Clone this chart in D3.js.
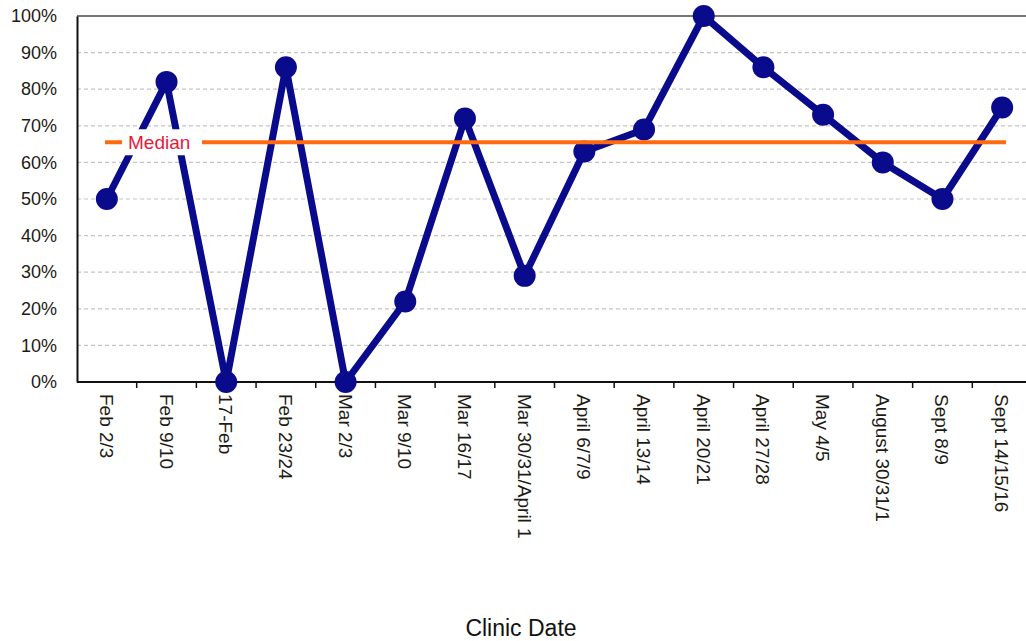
<!DOCTYPE html>
<html>
<head>
<meta charset="utf-8">
<script src="https://cdn.jsdelivr.net/npm/d3@7"></script>
<style>
  html, body { margin: 0; padding: 0; background: #fff; }
  svg { display: block; font-family: "Liberation Sans", Arial, sans-serif; }
</style>
</head>
<body>
<svg id="chart" width="1026" height="641"></svg>
<script>
// Clinic dates along the x axis
const clinicDates = [
  "Feb 2/3", "Feb 9/10", "17-Feb", "Feb 23/24", "Mar 2/3", "Mar 9/10",
  "Mar 16/17", "Mar 30/31/April 1", "April 6/7/9", "April 13/14",
  "April 20/21", "April 27/28", "May 4/5", "August 30/31/1", "Sept 8/9",
  "Sept 14/15/16"
];
// Share per clinic (fraction of 1)
const rates = [0.50, 0.82, 0.00, 0.86, 0.00, 0.22, 0.72, 0.29, 0.63, 0.69,
               1.00, 0.86, 0.73, 0.60, 0.50, 0.75];
// Median of the series
const medianValue = 0.655;
const yTicks = [0, 0.1, 0.2, 0.3, 0.4, 0.5, 0.6, 0.7, 0.8, 0.9, 1.0];

const svg = d3.select("#chart");
const plot = { left: 77, right: 1032, top: 16, bottom: 382 };

const x = d3.scaleBand().domain(clinicDates).range([plot.left, plot.right]).padding(0);
const y = d3.scaleLinear().domain([0, 1]).range([plot.bottom, plot.top]);

// Horizontal gridlines
svg.append("g").selectAll("line")
  .data(yTicks.filter(t => t > 0))
  .join("line")
  .attr("x1", plot.left).attr("x2", 1026)
  .attr("y1", d => y(d)).attr("y2", d => y(d))
  .attr("stroke", d => d === 1 ? "#777" : "#c4c4c4")
  .attr("stroke-width", d => d === 1 ? 2 : 1.2)
  .attr("stroke-dasharray", d => d === 1 ? null : "4,3");

// Y axis
const yAxis = svg.append("g")
  .attr("transform", `translate(${plot.left},0)`)
  .call(d3.axisLeft(y).tickValues(yTicks).tickFormat(d3.format(".0%")).tickSize(0).tickPadding(20));
yAxis.select(".domain").attr("stroke", "#111").attr("stroke-width", 2);
yAxis.selectAll("text").attr("font-size", 18).attr("fill", "#1e1a14");

// X axis with ticks at category boundaries
const xAxisG = svg.append("g").attr("transform", `translate(0,${plot.bottom})`);
xAxisG.append("line")
  .attr("x1", plot.left).attr("x2", 1026).attr("y1", 0).attr("y2", 0)
  .attr("stroke", "#111").attr("stroke-width", 2);
xAxisG.selectAll("line.tick")
  .data(clinicDates.slice(1))
  .join("line")
  .attr("class", "tick")
  .attr("x1", d => x(d)).attr("x2", d => x(d))
  .attr("y1", 0).attr("y2", 6)
  .attr("stroke", "#111").attr("stroke-width", 1.5);
xAxisG.selectAll("text")
  .data(clinicDates)
  .join("text")
  .attr("transform", d => `translate(${x(d) + x.bandwidth() / 2 - 7},12) rotate(90)`)
  .attr("font-size", 19)
  .attr("fill", "#1e1a14")
  .attr("text-anchor", "start")
  .text(d => d);

// Data line and markers
const cx = d => x(d) + x.bandwidth() / 2;
const line = d3.line().x((d, i) => cx(clinicDates[i])).y(d => y(d));
svg.append("path")
  .datum(rates)
  .attr("d", line)
  .attr("fill", "none")
  .attr("stroke", "#0a0a8c")
  .attr("stroke-width", 7)
  .attr("stroke-linejoin", "round");
svg.append("g").selectAll("circle")
  .data(rates)
  .join("circle")
  .attr("cx", (d, i) => cx(clinicDates[i]))
  .attr("cy", d => y(d))
  .attr("r", 11)
  .attr("fill", "#0a0a8c");

// Median line with its label on a white patch
const medY = y(medianValue);
svg.append("line")
  .attr("x1", 105).attr("x2", 1006)
  .attr("y1", medY).attr("y2", medY)
  .attr("stroke", "#ff6a10").attr("stroke-width", 4);
svg.append("rect")
  .attr("x", 122).attr("y", medY - 13)
  .attr("width", 80).attr("height", 26)
  .attr("fill", "#fff");
svg.append("text")
  .attr("x", 128).attr("y", medY + 7)
  .attr("font-size", 19)
  .attr("fill", "#e8163c")
  .text("Median");

// Axis title
svg.append("text")
  .attr("x", 521).attr("y", 636)
  .attr("text-anchor", "middle")
  .attr("font-size", 23)
  .attr("fill", "#111")
  .text("Clinic Date");
</script>
</body>
</html>
